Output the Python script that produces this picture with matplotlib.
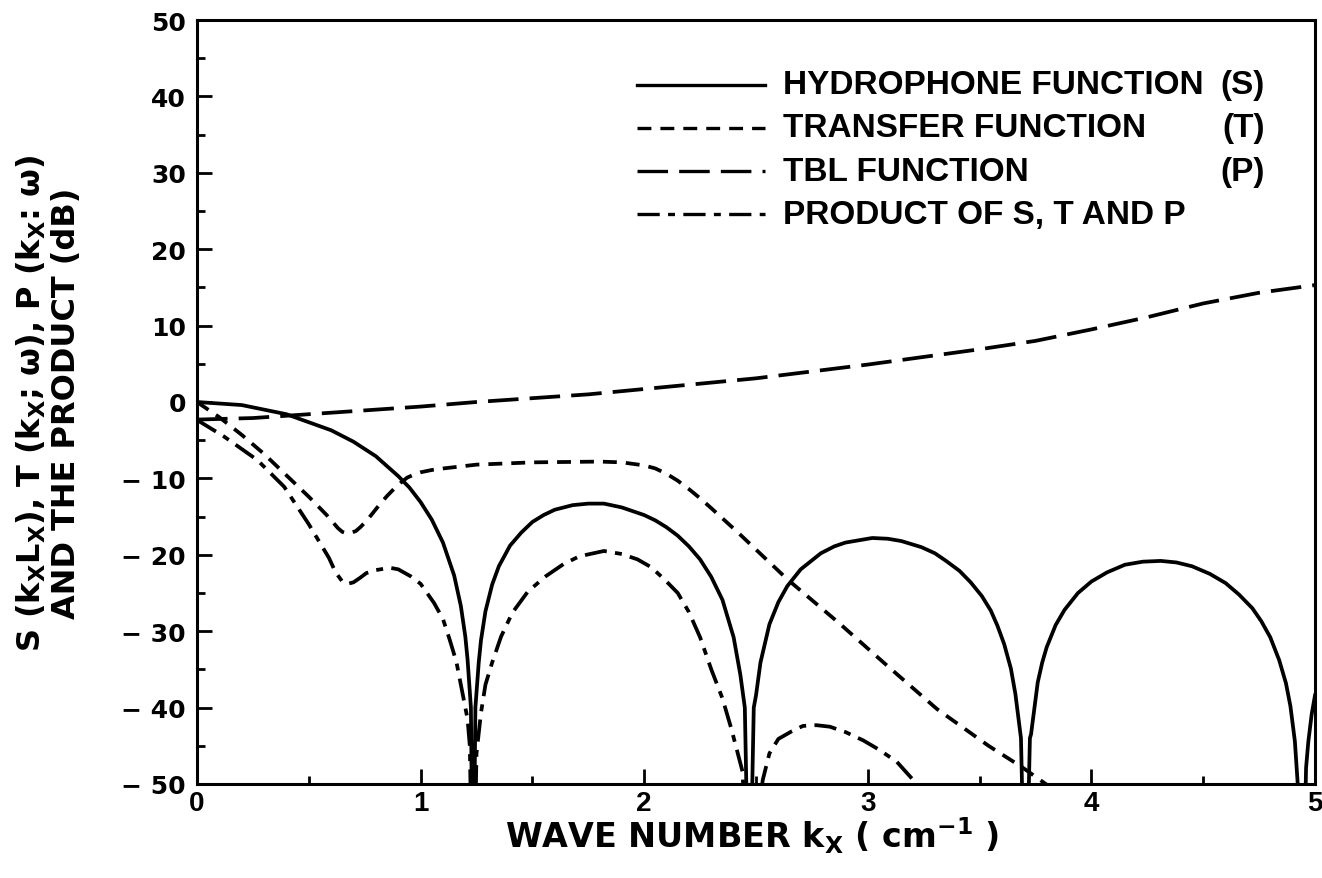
import matplotlib
matplotlib.use("Agg")
import matplotlib.pyplot as plt
from matplotlib.ticker import MultipleLocator

SANS = ["Liberation Sans", "DejaVu Sans"]
plt.rcParams["mathtext.fontset"] = "custom"
plt.rcParams["mathtext.rm"] = "DejaVu Sans:bold"
plt.rcParams["mathtext.it"] = "DejaVu Sans:bold"
plt.rcParams["mathtext.bf"] = "DejaVu Sans:bold"
plt.rcParams["lines.scale_dashes"] = False

# hydrophone function S (solid); nulls drop below the axis
s_x = [0, 0.2, 0.4, 0.6, 0.7, 0.8, 0.9, 0.95, 1.0, 1.05, 1.1, 1.15, 1.18, 1.2, 1.21, 1.225,
       1.235, 1.245, 1.26, 1.27, 1.29, 1.32, 1.35, 1.4, 1.45, 1.5, 1.55, 1.6, 1.68, 1.75,
       1.82, 1.9, 2.0, 2.05, 2.1, 2.15, 2.2, 2.25, 2.3, 2.35, 2.4, 2.43, 2.45, 2.47, 2.49,
       2.5, 2.52, 2.56, 2.6, 2.64, 2.7, 2.79, 2.85, 2.9, 3.02, 3.09, 3.15, 3.24, 3.3, 3.35,
       3.41, 3.46, 3.51, 3.55, 3.58, 3.61, 3.64, 3.66, 3.685, 3.705, 3.725, 3.73, 3.76, 3.78,
       3.8, 3.84, 3.88, 3.94, 4.0, 4.07, 4.15, 4.23, 4.31, 4.38, 4.45, 4.53, 4.6, 4.66, 4.72,
       4.76, 4.8, 4.84, 4.87, 4.89, 4.91, 4.925, 4.945, 4.96, 4.97, 4.985, 5.0]
s_db = [0, -0.4, -1.6, -3.7, -5.2, -7.1, -9.7, -11.2, -13.1, -15.4, -18.4, -22.7, -26.7, -30.7, -33.7, -40,
        -70, -40, -34.1, -31.2, -27.4, -23.9, -21.5, -18.8, -17.1, -15.7, -14.8, -14.1, -13.5, -13.3,
        -13.3, -13.8, -14.8, -15.5, -16.4, -17.5, -18.9, -20.6, -22.9, -25.9, -30.8, -35.7, -40, -70, -40,
        -38.4, -34.1, -29.1, -26.2, -24.1, -21.9, -19.8, -18.9, -18.4, -17.8, -17.9, -18.2, -19.0, -19.8, -20.8,
        -22.1, -23.6, -25.4, -27.3, -29.3, -31.7, -34.9, -38.2, -44, -70, -44, -43.5, -36.7, -34.1,
        -32.1, -29.2, -27.2, -25.0, -23.5, -22.3, -21.3, -20.9, -20.8, -21.0, -21.5, -22.5, -23.7, -25.2, -27.0,
        -28.7, -30.8, -33.8, -36.8, -39.8, -44.4, -51, -70, -47.9, -44.5, -40.9, -38.4]

# transfer function T (short dashes)
t_x = [0, 0.1, 0.2, 0.3, 0.4, 0.5, 0.58, 0.63, 0.65, 0.67, 0.69, 0.71, 0.73, 0.76, 0.79, 0.82,
       0.85, 0.88, 0.91, 0.94, 0.97, 1.0, 1.05, 1.1, 1.25, 1.5, 1.8, 1.9, 2.0, 2.05, 2.1, 2.15,
       2.2, 2.25, 2.3, 2.36, 2.42, 2.64, 2.87, 3.09, 3.31, 3.54, 3.69, 3.82]
t_db = [0, -2.0, -4.3, -6.8, -9.6, -12.4, -14.8, -16.5, -17.0, -17.2, -17.1, -16.9, -16.4, -15.5, -14.4, -13.3,
        -12.3, -11.4, -10.6, -9.9, -9.5, -9.2, -8.9, -8.7, -8.2, -7.9, -7.8, -7.9, -8.3, -8.7, -9.4, -10.3,
        -11.4, -12.6, -13.9, -15.5, -17.1, -23.2, -28.9, -34.6, -40.2, -45.0, -47.8, -50.5]

# TBL function P (long dashes)
p_x = [0, 0.25, 0.5, 0.75, 1.0, 1.25, 1.5, 1.75, 2.0, 2.25, 2.5, 2.75, 3.0, 3.25, 3.5,
       3.75, 4.0, 4.25, 4.5, 4.75, 5.0]
p_db = [-2.3, -2.1, -1.6, -1.1, -0.6, 0.0, 0.5, 1.0, 1.7, 2.4, 3.1, 4.0, 4.9, 5.9, 6.9,
        8.0, 9.5, 11.1, 12.9, 14.3, 15.3]

# product of S, T and P (dash-dot)
prod_x = [0, 0.12, 0.27, 0.39, 0.5, 0.59, 0.62, 0.65, 0.674, 0.7, 0.73, 0.757, 0.8, 0.863, 0.9,
          0.955, 1.0, 1.06, 1.1, 1.13, 1.16, 1.19, 1.21, 1.22, 1.235, 1.25, 1.27, 1.29, 1.32,
          1.36, 1.41, 1.48, 1.56, 1.64, 1.71, 1.82, 1.9, 1.97, 2.03, 2.09, 2.15, 2.2, 2.25, 2.3,
          2.35, 2.39, 2.44, 2.47, 2.49, 2.53, 2.56, 2.6, 2.66, 2.71, 2.77, 2.83, 2.9, 2.98, 3.05,
          3.13, 3.21, 3.28]
prod_db = [-2.35, -4.5, -7.6, -11.1, -16.0, -20.4, -22.3, -23.5, -23.8, -23.6, -23.0, -22.4, -22.0, -21.7, -21.9,
           -22.8, -23.8, -26.3, -28.4, -31.1, -34.0, -38.5, -41.5, -45, -70, -46, -40.7, -37.0, -34.1,
           -30.7, -27.6, -24.8, -22.8, -21.2, -20.2, -19.5, -19.9, -20.6, -21.6, -23.2, -25.0, -27.5, -30.8, -35,
           -38.8, -42.8, -48.4, -70, -60, -49.5, -46.0, -44.1, -43.1, -42.4, -42.3, -42.5, -43.2, -44.3, -45.5,
           -47.1, -49.7, -52]

labels = ["HYDROPHONE FUNCTION", "TRANSFER FUNCTION", "TBL FUNCTION", "PRODUCT OF S, T AND P"]
suffixes = ["(S)", "(T)", "(P)", ""]

styles = [dict(linestyle="-"),
          dict(linestyle=(0, (10, 6.5))),
          dict(linestyle=(0, (22, 8))),
          dict(linestyle=(0, (16, 6, 5, 6)))]

fig = plt.figure(figsize=(13.22, 8.79), dpi=100)
ax = fig.add_axes([197 / 1322, 1 - 785 / 879, 1118 / 1322, 764 / 879])

series = [(s_x, s_db), (t_x, t_db), (p_x, p_db), (prod_x, prod_db)]
for (xs, ys), st in zip(series, styles):
    ax.plot(xs, ys, color="black", lw=2.7, solid_joinstyle="round", **st)

ax.set_xlim(0, 5)
ax.set_ylim(-50, 50)

# axis frame and ticks
for sp in ax.spines.values():
    sp.set_linewidth(2.2)
ax.xaxis.set_major_locator(MultipleLocator(1))
ax.xaxis.set_minor_locator(MultipleLocator(0.5))
ax.yaxis.set_major_locator(MultipleLocator(10))
ax.yaxis.set_minor_locator(MultipleLocator(5))
ax.tick_params(which="both", direction="in", top=False, right=False, width=2)
ax.tick_params(which="major", length=11)
ax.tick_params(which="minor", length=6)
ax.tick_params(axis="y", pad=8)
ax.tick_params(axis="x", pad=4)

yt = list(range(-50, 51, 10))
ax.set_yticks(yt)
ax.set_yticklabels([("\u2212 %d" % -v) if v < 0 else str(v) for v in yt],
                   fontsize=18, fontweight="bold", family="DejaVu Sans")
ax.set_xticks(range(6))
ax.set_xticklabels([str(v) for v in range(6)], fontsize=20, fontweight="bold", family=SANS)

ax.set_xlabel("WAVE NUMBER k$_{X}$ ( cm$^{-1}$ )", fontsize=24, fontweight="bold",
              family="DejaVu Sans", va="baseline")
ax.xaxis.set_label_coords(0.497, -0.083)
ax.set_ylabel("S (k$_{X}$L$_{X}$), T (k$_{X}$; \u03c9), P (k$_{X}$: \u03c9)\nAND THE PRODUCT (dB)",
              fontsize=23, fontweight="bold", family="DejaVu Sans", va="center", ha="center",
              linespacing=1.1)
ax.yaxis.set_label_coords(-0.133, 0.5)

# key, drawn by hand so the letters line up in a column
rows_y = [0.915, 0.859, 0.802, 0.746]
for lab, suf, st, yy in zip(labels, suffixes, styles, rows_y):
    ax.plot([0.394, 0.508], [yy, yy], transform=ax.transAxes, color="black", lw=2.4, **st)
    ax.text(0.524, yy, lab, transform=ax.transAxes, va="center", ha="left",
            fontsize=24, fontweight="bold", family=SANS)
    if suf:
        ax.text(0.955, yy, suf, transform=ax.transAxes, va="center", ha="right",
                fontsize=24, fontweight="bold", family=SANS)

fig.savefig("out.png", dpi=100)
